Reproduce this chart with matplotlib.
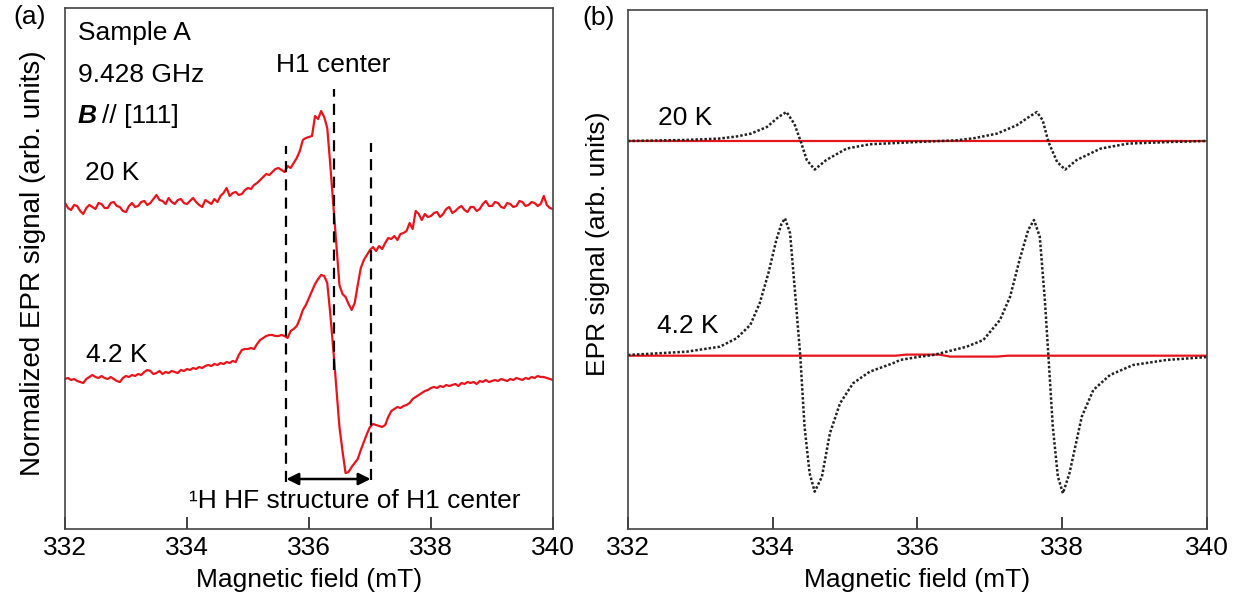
import numpy as np
import matplotlib
matplotlib.use("Agg")
import matplotlib.pyplot as plt

plt.rcParams['font.family'] = ['Liberation Sans', 'DejaVu Sans']

# ---------------- (a) measured spectra, 0.05 mT steps ----------------
field_a = np.round(np.arange(332.0, 340.0001, 0.05), 2)

signal_20K = [
    2, -3, -5, 0, -1, -6, -9, -3, 0, -2,
    -4, 2, 1, -3, -3, 2, 3, -1, -2, -6,
    -7, -1, 2, -2, -1, 3, 4, 0, 2, 6,
    10, 5, 4, 1, 7, 3, 1, 5, 6, 2,
    1, 4, 7, 3, 0, -2, 5, 3, 1, 6,
    3, 9, 12, 17, 9, 12, 13, 10, 11, 15,
    17, 16, 20, 22, 25, 28, 31, 30, 33, 36,
    37, 35, 33, 39, 37, 42, 47, 54, 65, 67,
    68, 69, 89, 86, 94, 88, 77, 40, 0, -39,
    -80, -89, -92, -99, -105, -98, -80, -63, -55, -50,
    -45, -42, -46, -41, -44, -38, -33, -34, -31, -35,
    -29, -28, -26, -18, -24, -6, -9, -15, -9, -12,
    -11, -8, -7, -12, -9, -4, -2, -8, -6, -3,
    -1, -5, -7, -2, -2, -6, -4, 1, 4, -1,
    -1, 3, 2, -2, -3, 2, 1, -2, -1, 4,
    3, -1, 0, 3, 2, -1, 1, 9, 0, -3,
    -4,
]

signal_4K = [
    0, 1, -1, 0, -2, -3, -4, 0, 2, 4,
    2, 1, 3, 1, 0, 2, 0, -2, -3, 1,
    3, 2, 4, 3, 5, 4, 7, 9, 8, 5,
    6, 8, 5, 7, 6, 8, 7, 6, 9, 8,
    10, 9, 11, 10, 12, 11, 13, 14, 13, 15,
    14, 16, 15, 17, 16, 18, 17, 24, 29, 30,
    30, 31, 30, 35, 39, 41, 43, 44, 44, 43,
    43, 44, 43, 41, 48, 50, 53, 60, 69, 74,
    81, 88, 95, 100, 104, 103, 96, 65, 29, -10,
    -48, -72, -94, -93, -88, -84, -80, -71, -63, -55,
    -48, -45, -46, -47, -48, -46, -38, -32, -30, -28,
    -29, -27, -26, -24, -20, -18, -16, -14, -12, -11,
    -9, -8, -9, -7, -8, -6, -7, -6, -5, -7,
    -4, -5, -3, -4, -3, -5, -2, -3, -1, -3,
    -2, -1, -2, 0, -1, -2, 0, -1, 1, 0,
    -1, 1, 0, 2, 1, 3, 2, 2, 1, 0,
    -1,
]

offset_a_20K = 324
offset_a_4K = 150

# hyperfine markers (mT)
hf_left, hf_center, hf_right = 335.63, 336.41, 337.01

# ---------------- (b) simulated spectra ----------------
sim_field_20K = [332.0, 332.8, 333.26, 333.5, 333.7, 333.92, 334.08, 334.19,
                 334.3, 334.39, 334.47, 334.58, 334.74, 335.02, 335.34, 336.0,
                 336.55, 336.8, 337.1, 337.37, 337.54, 337.65, 337.73, 337.81,
                 337.93, 338.04, 338.2, 338.53, 338.91, 339.5, 340.0]
sim_signal_20K = [0, 1, 2.4, 4.5, 7.4, 14, 24, 29,
                  17, -1, -19, -28.6, -19, -7.6, -3.3, -1,
                  0.7, 3, 7.4, 15.7, 24, 29, 20.7, -1,
                  -21, -28.6, -19, -7.6, -2.6, -1, 0]

sim_field_4K = [332.0, 332.81, 333.27, 333.5, 333.69, 333.82, 333.94, 334.05,
                334.12, 334.17, 334.24, 334.31, 334.38, 334.44, 334.51, 334.58,
                334.68, 334.79, 334.93, 335.11, 335.34, 335.66, 335.76, 336.03,
                336.22, 336.68, 336.91, 337.14, 337.28, 337.41, 337.53, 337.61,
                337.69, 337.76, 337.81, 337.87, 337.94, 338.01, 338.1, 338.27,
                338.43, 338.66, 338.98, 339.44, 339.95, 340.0]
sim_signal_4K = [0, 3.3, 8.3, 16.7, 30, 51.7, 81.7, 115,
                 131, 136.7, 121.7, 61.7, 0, -71.7, -118.3, -136.7,
                 -121.7, -78.3, -48.3, -28.3, -16.7, -8.3, -5, -1.7,
                 0, 8.3, 15, 35, 58.3, 95, 125, 135,
                 118.3, 55, -1.7, -71.7, -121.7, -138.3, -118.3, -61.7,
                 -35, -20, -10, -5, -2.3, -2]

# measured traces in (b): flat lines
flat_field_20K = [332.0, 340.0]
flat_signal_20K = [0, 0]
flat_field_4K = [332.0, 335.7, 335.85, 336.3, 336.45, 337.1, 337.25, 340.0]
flat_signal_4K = [-0.7, -0.7, 0.4, 0.4, -1.6, -1.6, -0.7, -0.7]

offset_b_20K = 388
offset_b_4K = 174

xticks = [332, 334, 336, 338, 340]

RED = '#e8141c'
TICK_FS = 19
LABEL_FS = 19
NOTE_FS = 19

fig = plt.figure(figsize=(12.42, 6.01), dpi=100)
ax_a = fig.add_axes([0.0523, 0.1198, 0.3929, 0.8669])
ax_b = fig.add_axes([0.5056, 0.1198, 0.4662, 0.8636])

for ax in (ax_a, ax_b):
    ax.set_xlim(332, 340)
    ax.set_xticks(xticks)
    ax.set_xticklabels([str(t) for t in xticks])
    ax.set_yticks([])
    ax.tick_params(axis='x', direction='in', length=9, width=1.3,
                   labelsize=TICK_FS, pad=5, top=False, color='#333333')
    for sp in ax.spines.values():
        sp.set_color('#444444')
        sp.set_linewidth(1.2)
    ax.set_xlabel('Magnetic field (mT)', fontsize=LABEL_FS, labelpad=6)

# ---- panel (a)
ax_a.set_ylim(0, 521)
ax_a.plot(field_a, np.array(signal_20K) + offset_a_20K, color=RED, lw=1.6)
ax_a.plot(field_a, np.array(signal_4K) + offset_a_4K, color=RED, lw=1.6)

dash = (0, (5, 3.2))
ax_a.plot([hf_left, hf_left], [47, 383], color='black', lw=1.6, ls=dash)
ax_a.plot([hf_center, hf_center], [159, 440], color='black', lw=1.6, ls=dash)
ax_a.plot([hf_right, hf_right], [49, 386], color='black', lw=1.6, ls=dash)
ax_a.annotate('', xy=(hf_left, 50), xytext=(hf_right, 50),
              arrowprops=dict(arrowstyle='<|-|>', color='black', lw=1.8,
                              mutation_scale=18, shrinkA=0, shrinkB=0))
ax_a.text(336.75, 21, '¹H HF structure of H1 center', fontsize=NOTE_FS,
          ha='center', va='baseline')
ax_a.text(hf_center - 0.02, 457, 'H1 center', fontsize=NOTE_FS,
          ha='center', va='baseline')

ax_a.text(332.21, 489, 'Sample A', fontsize=NOTE_FS, va='baseline')
ax_a.text(332.21, 447, '9.428 GHz', fontsize=NOTE_FS, va='baseline')
ax_a.text(332.21, 406, 'B', fontsize=NOTE_FS, va='baseline',
          fontweight='bold', fontstyle='italic')
ax_a.text(332.6, 406, '// [111]', fontsize=NOTE_FS, va='baseline')
ax_a.text(332.33, 349, '20 K', fontsize=NOTE_FS, va='baseline')
ax_a.text(332.34, 167, '4.2 K', fontsize=NOTE_FS, va='baseline')
ax_a.set_ylabel('Normalized EPR signal (arb. units)', fontsize=20)
ax_a.yaxis.set_label_coords(-0.038, 0.51)

# ---- panel (b)
ax_b.set_ylim(0, 519)
ax_b.plot(flat_field_20K, np.array(flat_signal_20K) + offset_b_20K,
          color=RED, lw=1.6)
ax_b.plot(flat_field_4K, np.array(flat_signal_4K) + offset_b_4K,
          color=RED, lw=1.6)
ax_b.plot(sim_field_20K, np.array(sim_signal_20K) + offset_b_20K,
          color='#222222', lw=1.8, ls=(0, (1, 0.8)))
ax_b.plot(sim_field_4K, np.array(sim_signal_4K) + offset_b_4K,
          color='#222222', lw=1.8, ls=(0, (1, 0.8)))
ax_b.text(332.41, 404, '20 K', fontsize=NOTE_FS, va='baseline')
ax_b.text(332.40, 196, '4.2 K', fontsize=NOTE_FS, va='baseline')
ax_b.set_ylabel('EPR signal (arb. units)', fontsize=LABEL_FS)
ax_b.yaxis.set_label_coords(-0.031, 0.55)

fig.text(0.0105, 0.972, '(a)', fontsize=NOTE_FS, va='center')
fig.text(0.469, 0.970, '(b)', fontsize=NOTE_FS, va='center')

fig.savefig('out.png', dpi=100)
